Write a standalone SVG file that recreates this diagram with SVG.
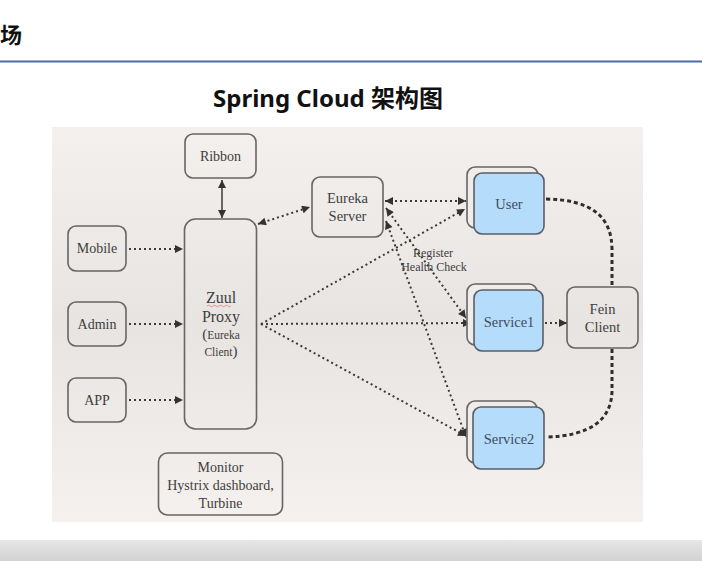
<svg xmlns="http://www.w3.org/2000/svg" width="702" height="561" viewBox="0 0 702 561">
<defs>
<linearGradient id="panelBg" x1="0" y1="0" x2="0" y2="1">
<stop offset="0" stop-color="#f4f0ed"/>
<stop offset="0.5" stop-color="#e7e4e1"/>
<stop offset="1" stop-color="#f5f1ee"/>
</linearGradient>
<linearGradient id="bandBg" x1="0" y1="0" x2="0" y2="1">
<stop offset="0" stop-color="#e6e6e6"/>
<stop offset="1" stop-color="#d2d2d2"/>
</linearGradient>
<marker id="arr" viewBox="0 0 10 10" refX="10" refY="5" markerWidth="9" markerHeight="8" markerUnits="userSpaceOnUse" orient="auto-start-reverse">
<path d="M0,0 L10,5 L0,10 Z" fill="#333"/>
</marker>
<style>
.box{fill:none;stroke:#666;stroke-width:1.6}
.back{fill:#efece9;stroke:#666;stroke-width:1.6}
.blue{fill:#b5dcfa;stroke:#5a5f66;stroke-width:1.6}
.lbl{font-family:"Liberation Serif","DejaVu Serif",serif;fill:#3e3e3e;text-anchor:middle}
.blbl{font-family:"Liberation Serif","DejaVu Serif",serif;fill:#3d4e60;text-anchor:middle;font-size:14.5px}
.dot{fill:none;stroke:#3a3a3a;stroke-width:2;stroke-dasharray:2 3}
.dash{fill:none;stroke:#2e2e2e;stroke-width:3;stroke-dasharray:4 3}
.solid{fill:none;stroke:#3a3a3a;stroke-width:1.5}
</style>
</defs>

<rect x="0" y="0" width="702" height="561" fill="#ffffff"/>
<text x="0" y="43" font-family="'Noto Sans CJK SC','Liberation Sans',sans-serif" font-size="22" font-weight="bold" fill="#111">场</text>
<line x1="0" y1="61.5" x2="702" y2="61.5" stroke="#4a6ea8" stroke-width="2"/>
<text x="328" y="107" text-anchor="middle" font-family="'Noto Sans','Noto Sans CJK SC',sans-serif" font-size="24" font-weight="bold" fill="#111">Spring Cloud 架构图</text>

<rect x="52" y="127" width="591" height="395" fill="url(#panelBg)"/>
<rect x="0" y="540" width="702" height="21" fill="url(#bandBg)"/>

<g id="connectors">
<line class="solid" x1="222" y1="180" x2="222" y2="218" marker-start="url(#arr)" marker-end="url(#arr)"/>
<line class="dot" x1="258" y1="224" x2="310" y2="207" marker-start="url(#arr)" marker-end="url(#arr)"/>
<line class="dot" x1="129" y1="249" x2="183" y2="249" marker-end="url(#arr)"/>
<line class="dot" x1="129" y1="324" x2="183" y2="324" marker-end="url(#arr)"/>
<line class="dot" x1="129" y1="400" x2="183" y2="400" marker-end="url(#arr)"/>
<line class="dot" x1="385" y1="201" x2="466" y2="201" marker-start="url(#arr)" marker-end="url(#arr)"/>
<line class="dot" x1="261" y1="324" x2="465" y2="209" marker-end="url(#arr)"/>
<line class="dot" x1="261" y1="324" x2="471" y2="323" marker-end="url(#arr)"/>
<line class="dot" x1="261" y1="324" x2="466" y2="436" marker-end="url(#arr)"/>
<line class="dot" x1="386" y1="208" x2="466" y2="318" marker-start="url(#arr)" marker-end="url(#arr)"/>
<line class="dot" x1="386" y1="221" x2="466" y2="437" marker-start="url(#arr)" marker-end="url(#arr)"/>
<line class="dot" x1="545" y1="323" x2="567" y2="323" marker-end="url(#arr)"/>
<path class="dash" d="M546,199 C590,200 612,215 612,250 L612,287"/>
<path class="dash" d="M612,349 L612,390 C612,420 590,436 546,437"/>
</g>

<g id="ribbon">
<rect class="box" x="185" y="134" width="71" height="44" rx="8"/>
<text class="lbl" x="220.5" y="161" font-size="14">Ribbon</text>
</g>
<g id="mobile">
<rect class="box" x="68" y="226" width="58" height="45" rx="8"/>
<text class="lbl" x="97" y="253" font-size="14">Mobile</text>
</g>
<g id="admin">
<rect class="box" x="68" y="302" width="58" height="44" rx="8"/>
<text class="lbl" x="97" y="328.5" font-size="14">Admin</text>
</g>
<g id="app">
<rect class="box" x="68" y="378" width="58" height="44" rx="8"/>
<text class="lbl" x="97" y="404.5" font-size="14">APP</text>
</g>
<g id="zuul">
<rect class="box" x="184.5" y="219" width="72" height="210" rx="11"/>
<text class="lbl" x="221" y="303" font-size="16">Zuul</text>
<path d="M207,306 q1.5,-1.5 3,0 t3,0 t3,0 t3,0 t3,0 t3,0 t3,0 t3,0" fill="none" stroke="#d98080" stroke-width="0.8"/>
<text class="lbl" x="221" y="322" font-size="16">Proxy</text>
<text class="lbl" x="221" y="339" font-size="11.5"><tspan font-size="15">(</tspan>Eureka</text>
<text class="lbl" x="221" y="356" font-size="11.5">Client<tspan font-size="15">)</tspan></text>
</g>
<g id="monitor">
<rect class="box" x="158.5" y="453" width="124" height="62" rx="9"/>
<text class="lbl" x="220.5" y="472" font-size="14">Monitor</text>
<text class="lbl" x="220.5" y="490" font-size="14">Hystrix dashboard,</text>
<text class="lbl" x="220.5" y="508" font-size="14">Turbine</text>
</g>
<g id="eureka">
<rect class="box" x="312" y="177" width="71" height="60" rx="8"/>
<text class="lbl" x="347.5" y="203" font-size="14.5">Eureka</text>
<text class="lbl" x="347.5" y="221" font-size="14.5">Server</text>
</g>
<g id="user">
<rect class="back" x="467" y="167" width="71" height="61" rx="8"/>
<rect class="blue" x="474" y="173" width="70" height="61" rx="8"/>
<text class="blbl" x="509" y="209">User</text>
</g>
<g id="service1">
<rect class="back" x="467" y="284" width="70" height="61" rx="8"/>
<rect class="blue" x="474" y="290" width="69" height="61" rx="8"/>
<text class="blbl" x="509" y="327">Service1</text>
</g>
<g id="service2">
<rect class="back" x="467" y="401" width="70" height="62" rx="8"/>
<rect class="blue" x="473" y="407" width="71" height="62" rx="8"/>
<text class="blbl" x="509" y="444">Service2</text>
</g>
<g id="fein">
<rect class="box" x="567" y="287" width="71" height="61" rx="8"/>
<text class="lbl" x="602.5" y="314" font-size="14.5">Fein</text>
<text class="lbl" x="602.5" y="332" font-size="14.5">Client</text>
</g>
<g id="register-label">
<text class="lbl" x="433" y="257" font-size="12" fill="#555">Register</text>
<text class="lbl" x="434" y="271" font-size="12" fill="#555">Health Check</text>
</g>
</svg>
